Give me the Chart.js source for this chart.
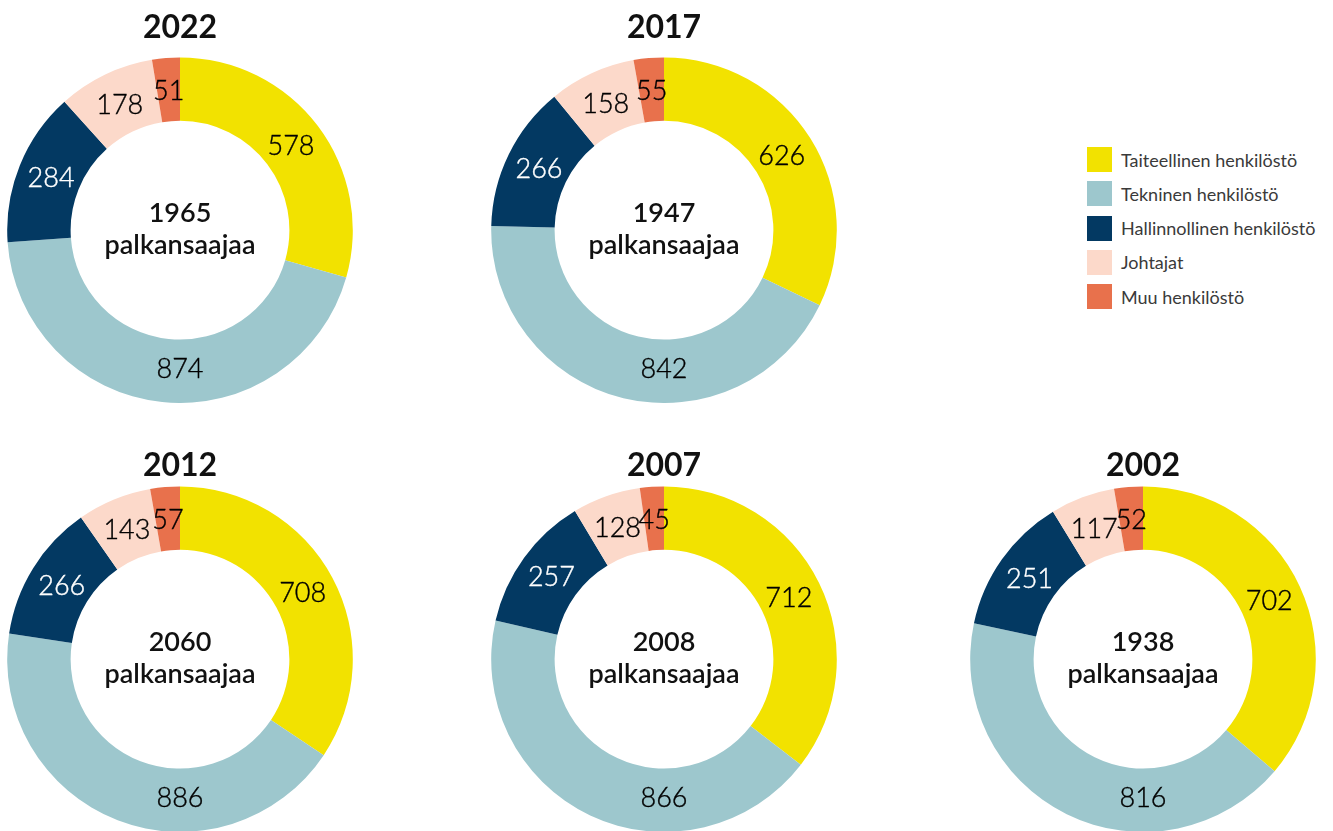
<!DOCTYPE html>
<html>
<head>
<meta charset="utf-8">
<script src="https://cdn.jsdelivr.net/npm/chart.js@4/dist/chart.umd.min.js"></script>
<style>
  html, body { margin:0; padding:0; background:#fff; width:1333px; height:831px; overflow:hidden; }
  .box { position:absolute; }
  #legend { position:absolute; left:1087px; top:147px; font-family:Lato, sans-serif; font-size:18px; color:#3a3a3a; }
  .li { display:flex; align-items:center; height:25px; margin-bottom:9.3px; }
  .sw { width:25px; height:25px; margin-right:9px; flex:none; }
</style>
</head>
<body>
<div id="legend"></div>
<script>
const years = ['2022', '2017', '2012', '2007', '2002'];
const categories = ['Taiteellinen henkilöstö', 'Tekninen henkilöstö', 'Hallinnollinen henkilöstö', 'Johtajat', 'Muu henkilöstö'];
const taiteellinen   = [578, 626, 708, 712, 702];
const tekninen       = [874, 842, 886, 866, 816];
const hallinnollinen = [284, 266, 266, 257, 251];
const johtajat       = [178, 158, 143, 128, 117];
const muu            = [51, 55, 57, 45, 52];
const colors = ['#F2E200', '#9DC7CD', '#033962', '#FCD9CA', '#E8714C'];
const centerWord = 'palkansaajaa';

// layout of each doughnut (canvas box); not data
const boxes = [
  {left: 7,   top: 0,   padTop: 8, padBottom: 11},
  {left: 491, top: 0,   padTop: 8, padBottom: 11},
  {left: 7,   top: 438, padTop: 8, padBottom: 2},
  {left: 491, top: 438, padTop: 8, padBottom: 2},
  {left: 970, top: 438, padTop: 8, padBottom: 2}
];

// legend
const lg = document.getElementById('legend');
categories.forEach((c, i) => {
  const d = document.createElement('div'); d.className = 'li';
  const s = document.createElement('div'); s.className = 'sw'; s.style.background = colors[i];
  const t = document.createElement('span'); t.textContent = c;
  d.appendChild(s); d.appendChild(t); lg.appendChild(d);
});

function isDark(hex) {
  const r = parseInt(hex.substr(1,2),16), g = parseInt(hex.substr(3,2),16), b = parseInt(hex.substr(5,2),16);
  return (0.299*r + 0.587*g + 0.114*b) < 110;
}

const labelPlugin = {
  id: 'sliceLabels',
  afterDatasetsDraw(chart) {
    const ctx = chart.ctx;
    const meta = chart.getDatasetMeta(0);
    const ds = chart.data.datasets[0];
    ctx.save();
    ctx.font = '300 27px Lato, sans-serif';
    ctx.textAlign = 'center';
    ctx.textBaseline = 'middle';
    meta.data.forEach((arc, i) => {
      const p = arc.getProps(['x','y','startAngle','endAngle','innerRadius','outerRadius'], true);
      let mid = (p.startAngle + p.endAngle) / 2;
      const bottom = Math.PI / 2;
      if (p.startAngle < bottom && p.endAngle > bottom) mid = bottom;
      const r = (p.innerRadius + p.outerRadius) / 2 - 2;
      const x = p.x + Math.cos(mid) * r;
      const y = p.y + Math.sin(mid) * r;
      const dark = isDark(ds.backgroundColor[i]);
      ctx.fillStyle = dark ? '#ffffff' : '#000000';
      ctx.fillText(String(ds.data[i]), x, y);
      ctx.lineWidth = 0.4;
      ctx.strokeStyle = ctx.fillStyle;
      ctx.strokeText(String(ds.data[i]), x, y);
    });
    const a0 = meta.data[0];
    const total = ds.data.reduce((s, v) => s + v, 0);
    ctx.fillStyle = '#111';
    ctx.font = '600 27px Lato, sans-serif';
    ctx.fillText(String(total), a0.x, a0.y - 17);
    ctx.fillText(centerWord, a0.x, a0.y + 15);
    ctx.restore();
  }
};

years.forEach((yr, k) => {
  const b = boxes[k];
  const div = document.createElement('div');
  div.className = 'box';
  div.style.left = b.left + 'px';
  div.style.top = b.top + 'px';
  const cv = document.createElement('canvas');
  const h = 346 + Math.round(32 * 1.2 + b.padTop + b.padBottom);
  cv.width = 346; cv.height = h;
  cv.style.width = '346px'; cv.style.height = h + 'px';
  div.appendChild(cv);
  document.body.appendChild(div);
  new Chart(cv, {
    type: 'doughnut',
    data: {
      labels: categories,
      datasets: [{
        data: [taiteellinen[k], tekninen[k], hallinnollinen[k], johtajat[k], muu[k]],
        backgroundColor: colors,
        borderWidth: 0,
        hoverOffset: 0,
        offset: 0
      }]
    },
    options: {
      responsive: false,
      maintainAspectRatio: false,
      animation: false,
      events: [],
      cutout: '63.3%',
      layout: { padding: 0 },
      plugins: {
        legend: { display: false },
        tooltip: { enabled: false },
        title: {
          display: true,
          text: yr,
          color: '#111',
          font: { family: 'Lato, sans-serif', size: 32, weight: '700', lineHeight: 1.2 },
          padding: { top: b.padTop, bottom: b.padBottom }
        }
      }
    },
    plugins: [labelPlugin]
  });
});
</script>
</body>
</html>
